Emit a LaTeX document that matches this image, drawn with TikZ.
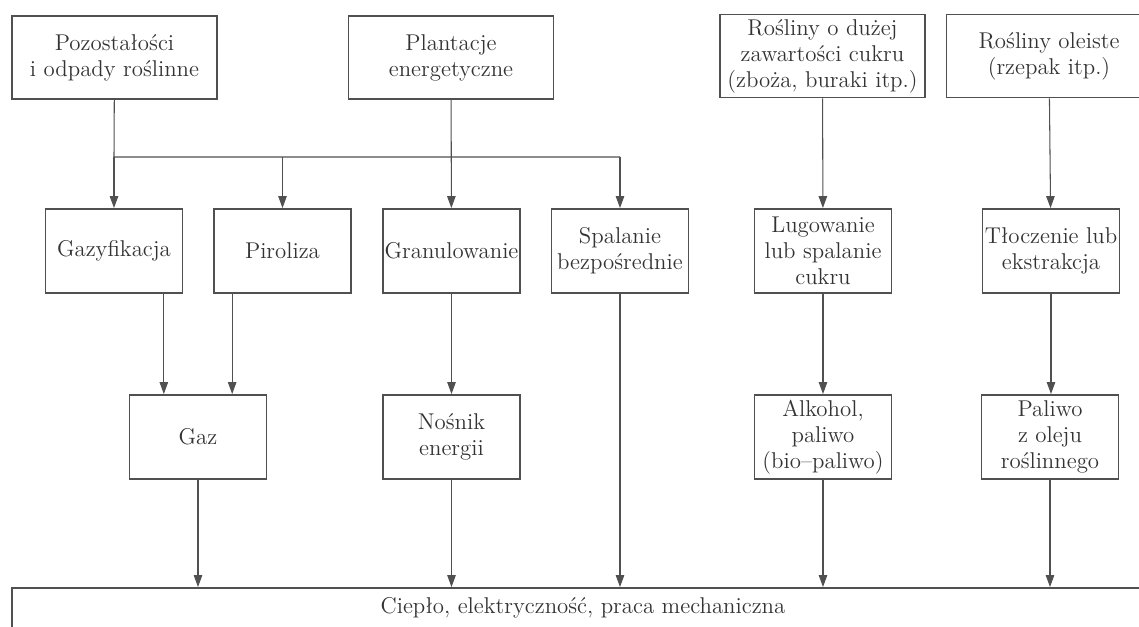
\documentclass[tikz,border=0pt]{standalone}
\usepackage{fontspec}
\usepackage{tikz}
\usetikzlibrary{calc,arrows.meta}
\definecolor{ink}{HTML}{333333}
\definecolor{rule}{HTML}{505050}
\tikzset{
  box/.style={draw=rule, line width=1.1pt, text=ink, align=center, inner sep=0pt,
    minimum width=2.74cm, minimum height=1.68cm, font=\fontsize{13}{14.8}\selectfont},
  wide/.style={box, minimum width=4.1cm, minimum height=1.66cm},
  link/.style={draw=rule, line width=0.6pt},
  arr/.style={link, -{Triangle[length=2.4mm,width=1.7mm]}},
}

\begin{document}
\begin{tikzpicture}[x=0.02cm,y=-0.02cm]
  \useasboundingbox (0,0) rectangle (1139,626); \clip (0,0) rectangle (1139,626);
  \node[wide] (R) at (114.5,57.5) {Pozostałości\\i odpady roślinne};
  \node[wide] (P) at (451,57.5) {Plantacje\\energetyczne};
  \node[wide] (C) at (822.5,56) {Rośliny o dużej\\zawartości cukru\\(zboża, buraki itp.)};
  \node[wide] (O) at (1049,56) {Rośliny oleiste\\(rzepak itp.)};
  \node[box] (G) at (114,251) {Gazyfikacja};
  \node[box] (Y) at (282.5,251) {Piroliza};
  \node[box] (U) at (451.5,251) {Granulowanie};
  \node[box] (S) at (620,251) {Spalanie\\bezpośrednie};
  \node[box] (L) at (823,251) {Lugowanie\\lub spalanie\\cukru};
  \node[box] (T) at (1051,251) {Tłoczenie lub\\ekstrakcja};
  \node[box] (Gz) at (198,437) {Gaz};
  \node[box] (N) at (451.5,437) {Nośnik\\energii};
  \node[box] (Al) at (823,437) {Alkohol,\\paliwo\\(bio--paliwo)};
  \node[box] (Pa) at (1050,437) {Paliwo\\z oleju\\roślinnego};
  \node[box, minimum width=22.84cm, minimum height=0.8cm] (Q) at (583,608) {Ciepło, elektryczność, praca mechaniczna};
  \coordinate (J) at (114,157); \coordinate (K) at (620,157);
  \coordinate (g1) at ($(Gz.north west)!0.254!(Gz.north east)$);
  \coordinate (g2) at ($(Gz.north west)!0.746!(Gz.north east)$);
  \draw[link] (R) -- (J) -- (K);
  \draw[arr] (J) -- (G); \draw[arr] (J -| Y) -- (Y); \draw[arr] (K) -- (S); \draw[arr] (P) -- (U);
  \draw[arr] (C) -- (L); \draw[arr] (O) -- (T);
  \draw[arr] (G.south -| g1) -- (g1); \draw[arr] (Y.south -| g2) -- (g2);
  \draw[arr] (U) -- (N); \draw[arr] (L) -- (Al); \draw[arr] (T) -- (T |- Pa.north);
  \draw[arr] (Gz) -- (Gz |- Q.north); \draw[arr] (N) -- (N |- Q.north); \draw[arr] (S) -- (S |- Q.north);
  \draw[arr] (Al) -- (Al |- Q.north); \draw[arr] (Pa) -- (Pa |- Q.north);
\end{tikzpicture}
\end{document}
